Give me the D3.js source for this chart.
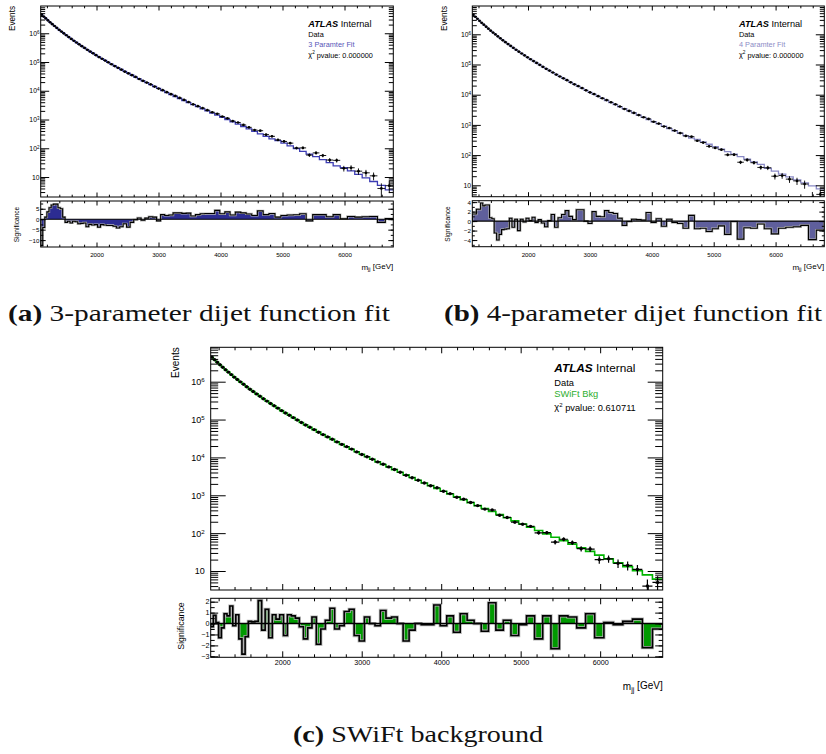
<!DOCTYPE html>
<html>
<head>
<meta charset="utf-8">
<script src="https://cdn.jsdelivr.net/npm/d3@7"></script>
<style>
  body { margin: 0; background: #ffffff; }
  svg { display: block; }
</style>
</head>
<body>
<svg id="figure" width="826" height="754"></svg>
<script>
// Dijet mass bins [GeV], shared by all three fits
const binEdges = [1100, 1133, 1166, 1200, 1234, 1269, 1305, 1341, 1378, 1416, 1454, 1493, 1533, 1573,
  1614, 1656, 1698, 1741, 1785, 1830, 1875, 1921, 1968, 2016, 2065, 2114, 2164, 2215, 2267, 2320,
  2374, 2429, 2485, 2542, 2600, 2659, 2719, 2780, 2842, 2905, 2969, 3034, 3100, 3167, 3235, 3305,
  3376, 3448, 3521, 3596, 3672, 3749, 3827, 3907, 3988, 4070, 4154, 4239, 4326, 4414, 4504, 4595,
  4688, 4782, 4878, 4975, 5074, 5175, 5277, 5381, 5487, 5595, 5705, 5817, 5931, 6047, 6165, 6285,
  6407, 6531, 6658, 6787];

// Events per bin (data)
const dataCounts = [4425000, 3812000, 3273000, 2803000, 2398000, 2076000, 1789000, 1540000, 1318000, 1144000,
  989600, 852400, 735000, 633200, 549100, 476100, 413300, 355600, 307700, 265800,
  231400, 200200, 172400, 149000, 129900, 112500, 97160, 83510, 72120, 62700,
  54340, 46290, 40100, 34810, 30200, 25690, 22090, 19230, 16600, 13980,
  11910, 10460, 8920, 7623, 6627, 5627, 4811, 4060, 3366, 2907,
  2495, 2111, 1790, 1582, 1273, 1103, 885, 788, 647, 534,
  431, 408, 298, 260, 195, 173, 151, 102, 103, 58,
  69, 56, 39, 38, 20, 21, 16, 14, 11, 4, 5];

// Background estimates per bin
const fit3Param = [4432000, 3817000, 3278000, 2797000, 2391000, 2068000, 1781000, 1532000, 1312000, 1138000,
  986000, 857600, 738400, 635200, 551100, 477900, 413800, 357700, 308600, 267900,
  232300, 201300, 173300, 150500, 130600, 113200, 97870, 84410, 73250, 63500,
  54850, 47310, 40760, 35270, 29910, 25720, 22080, 19040, 16390, 14070,
  12060, 10120, 8665, 7404, 6312, 5388, 4583, 3888, 3301, 2794,
  2360, 1992, 1680, 1411, 1183, 991, 828, 688, 571.5, 472,
  389, 319, 261, 212.4, 185.2, 150.4, 121.7, 97.8, 78.3, 62.3,
  51.5, 40.6, 31.7, 24.4, 21.2, 16.3, 12.4, 9.4, 7.0, 5.1, 3.6];

const fit4Param = [4421000, 3806000, 3268000, 2801000, 2395000, 2071000, 1785000, 1535000, 1315000, 1140000,
  993400, 857200, 738100, 634900, 550800, 477700, 411900, 355900, 306900, 266400,
  230900, 199900, 172000, 149300, 129500, 112200, 96940, 83540, 72450, 62750,
  54150, 46660, 40160, 34490, 29720, 25550, 21910, 18890, 16250, 13940,
  11940, 10260, 8788, 7518, 6417, 5485, 4673, 3971, 3448, 2929,
  2485, 2107, 1786, 1508, 1273, 1073, 903, 757, 634.5, 529.5,
  442, 367.3, 329.4, 274.8, 228.7, 190.0, 157.6, 130.3, 107.7, 88.8,
  73.0, 59.9, 49.0, 36.4, 29.4, 23.6, 18.9, 15.2, 12.1, 9.6, 7.6];

const fitSwift = [4426000, 3811000, 3273000, 2805000, 2399000, 2075000, 1788000, 1538000, 1318000, 1143000,
  991000, 855000, 736000, 633000, 549000, 476000, 412000, 356000, 307000, 266500,
  231000, 200000, 172100, 149400, 129600, 112300, 97000, 83600, 72500, 62800,
  54200, 46700, 40200, 34750, 29960, 25770, 22120, 19080, 16430, 14110,
  12090, 10400, 8920, 7640, 6530, 5590, 4770, 4060, 3460, 2940,
  2495, 2116, 1794, 1516, 1280, 1080, 909, 763, 639.5, 534.5,
  446, 371.3, 308.3, 255.6, 211.3, 174.2, 143.2, 117.3, 95.9, 78.2,
  63.4, 51.3, 41.3, 33.0, 26.3, 20.9, 16.5, 13.0, 10.16, 7.89, 6.10];

// Significance per bin
const sig3Param = [-12.5, -4, 1, 3.5, 5.5, 6.8, 7.2, 7.2, 5.5, 5,
  1, -1.5, -1.0, -1.8, -1.0, -1.2, -2.2, -2.0, -1.8, -3.6,
  -2.5, -2.8, -2.6, -3.8, -2.6, -2.8, -3.0, -3.0, -3.4, -4.2,
  -3.6, -2.2, -3.8, -1.5, -0.3, 0.6, -0.5, 0.5, 1.2, 1.0,
  -0.8, 2.2, 1.8, 2.0, 3.0, 3.0, 2.8, 2.9, 1.5, 2.2,
  2.6, 2.7, 2.7, 4.2, 2.6, 3.5, 2.0, 3.4, 3.0, 2.5,
  1.8, 4.0, 2.2, 2.7, 1.0, 1.8, 2.0, 2.1, 2.6, -0.8,
  2.2, 2.2, 1.2, 2.2, 0.2, 1.3, 1.0, 1.2, 1.3, -1.5, 0.3];

const sig4Param = [1.5, 1.5, 2.5, 2.5, 3.8, 3.2, 3.4, 3.4, 0.7, 0.5,
  -2.5, -4.0, -2.8, -1.8, -1.7, -1.6, 0.6, -1.3, 0.4, -2.0,
  0.4, -0.2, 0.6, 0.1, 0.8, -0.3, 0.3, -0.4, -1.2, 0.1,
  1.4, -1.3, 0.7, 1.4, 2.2, 1.0, 0.3, 2.4, 2.4, 0.0,
  -0.5, 2.0, 1.0, 0.9, 2.2, 1.8, 1.6, 0.6, -0.9, -0.1,
  0.4, 0.3, 0.2, 1.8, -0.3, 0.5, -1.1, 0.4, -0.3, -0.5,
  -1.5, 1.2, -1.6, -1.5, -2.2, -1.6, -1.0, -2.8, -0.1, -3.8,
  -1.4, -1.5, -0.6, -1.6, -2.7, -1.5, -1.3, -1.2, -0.9, -3.9, -1.9];

const sigSwift = [-0.3, 0.75, 0.1, -1.3, -0.4, 0.9, 0.7, 1.6, -0.2, 0.8,
  -1.4, -2.8, -1.2, 0.2, 0.15, 0.2, 2.1, -0.6, 1.3, -1.3,
  0.8, 0.4, 0.8, -1.1, 0.8, 0.7, 0.5, -0.3, -1.4, -0.4,
  0.6, -1.9, -0.5, 0.3, 1.4, -0.5, -0.2, 1.1, 1.3, -1.1,
  -1.6, 0.6, 0.0, -0.2, 1.2, 0.5, 0.6, 0.0, -1.6, -0.6,
  0.0, -0.1, -0.1, 1.7, -0.2, 0.7, -0.8, 0.9, 0.3, 0.0,
  -0.7, 1.9, -0.6, 0.3, -1.1, -0.1, 0.7, -1.4, 0.7, -2.3,
  0.7, 0.6, -0.4, 0.9, -1.3, 0.1, -0.1, 0.2, 0.4, -2.2, -0.5];

const massTicks = [2000, 3000, 4000, 5000, 6000];
const fitLabels = ['3 Paramter Fit', '4 Paramter Fit', 'SWiFt Bkg'];
const pValues = ['0.000000', '0.000000', '0.610711'];
const captionTags = ['(a)', '(b)', '(c)'];
const captionTexts = [' 3-parameter dijet function fit', ' 4-parameter dijet function fit', ' SWiFt background'];

const FONT = '"Liberation Sans", Arial, Helvetica, sans-serif';
const SERIF = '"Liberation Serif", "DejaVu Serif", serif';

const svg = d3.select('#figure');
const defs = svg.append('defs');

// Small-panel layout shared by (a) and (b)
const smallTicks = { xMaj: 4.5, xMin: 2.3, yMaj: 8.5, yMin: 4.5, sMaj: 5, sMin: 2.5 };
const smallFonts = { yLab: 6.8, xLab: 6.2, sLab: 6.2, events: 8.2, sigTitle: 6.6, xTitle: 8, atlas: 9.2, leg: 7.3 };
const smallStroke = { fit: 1.3, data: 0.9, marker: 1.35, outline: 1.1, halo: 2.3, zero: 1.1 };

const panels = [
  {
    id: 'a', fit: fit3Param, sig: sig3Param, label: fitLabels[0], pvalue: pValues[0],
    fill: '#2c2c92', line: '#3c3cb4', legendColor: '#5656b8',
    left: 40.7, right: 393.3, top: 6, bottom: 197, lowTop: 201, lowBottom: 247,
    yDomain: [2.02, 8.87e6], sigDomain: [-13.3, 8.7], sigMajor: [-10, -5, 0, 5], sigMinorStep: 2.5,
    tick: smallTicks, font: smallFonts, stroke: smallStroke,
    pad: { yLab: 1.2, xLab: 5.5, sLab: 1.3 },
    eventsX: 15, sigTitleX: 18.5, sigTitleY: 224.5, xTitleY: 269.5,
    legendX: 308.3, legendY: [26.7, 36.6, 46.6, 56.5],
  },
  {
    id: 'b', fit: fit4Param, sig: sig4Param, label: fitLabels[1], pvalue: pValues[1],
    fill: '#5f5f9c', line: '#8a8ac6', legendColor: '#8c8cc6',
    left: 472.3, right: 824.3, top: 6, bottom: 196.7, lowTop: 200.7, lowBottom: 246.7,
    yDomain: [4.19, 8.65e6], sigDomain: [-5.4, 4.3], sigMajor: [-4, -2, 0, 2, 4], sigMinorStep: 1,
    tick: smallTicks, font: smallFonts, stroke: smallStroke,
    pad: { yLab: 1.2, xLab: 5.5, sLab: 1.3 },
    eventsX: 446.5, sigTitleX: 450, sigTitleY: 224, xTitleY: 269.5,
    legendX: 739, legendY: [26.7, 36.6, 46.6, 56.5],
  },
  {
    id: 'c', fit: fitSwift, sig: sigSwift, label: fitLabels[2], pvalue: pValues[2],
    fill: '#009a00', line: '#00b400', legendColor: '#2eae2e',
    left: 210.7, right: 662.7, top: 347.3, bottom: 590, lowTop: 598.3, lowBottom: 657.3,
    yDomain: [3.15, 8.1e6], sigDomain: [-3.09, 2.31], sigMajor: [-3, -2, -1, 0, 1, 2], sigMinorStep: 0.5,
    tick: { xMaj: 6, xMin: 3, yMaj: 15, yMin: 7.5, sMaj: 7.5, sMin: 4 },
    font: { yLab: 9, xLab: 7.2, sLab: 7.2, events: 10, sigTitle: 8.8, xTitle: 10, atlas: 11.8, leg: 9.3 },
    stroke: { fit: 1.6, data: 1.2, marker: 1.7, outline: 1.6, halo: 3.2, zero: 1.4 },
    pad: { yLab: 6, xLab: 2.5, sLab: 1.3 },
    eventsX: 179, sigTitleX: 183.5, sigTitleY: 626, xTitleY: 690,
    legendX: 554.3, legendY: [371.7, 386, 397.4, 410],
  },
];

const massMinor = d3.range(1200, binEdges[binEdges.length - 1], 200).filter((v) => v % 1000 !== 0);

/**
 * Log ticks between the domain limits: 1..9 x 10^n
 */
const logTicks = (domain) => {
  const out = [];
  for (let e = Math.floor(Math.log10(domain[0])); e <= Math.ceil(Math.log10(domain[1])); e++) {
    for (let k = 1; k < 10; k++) {
      const v = k * Math.pow(10, e);
      if (v >= domain[0] && v <= domain[1]) out.push({ v, major: k === 1 });
    }
  }
  return out;
};

// helper: append an axis group, drop the domain line, set ROOT-like styling
const addAxis = (g, axis, tx, ty, fontSize) => g
  .append('g')
  .attr('transform', `translate(${tx},${ty})`)
  .call(axis)
  .call((a) => a.select('.domain').remove())
  .attr('font-family', FONT)
  .attr('font-size', fontSize || 8);

const drawPanel = (p) => {
  const xScale = d3.scaleLinear()
    .domain([binEdges[0], binEdges[binEdges.length - 1]])
    .range([p.left, p.right]);
  const yScale = d3.scaleLog().domain(p.yDomain).range([p.bottom, p.top]);
  const sigScale = d3.scaleLinear().domain(p.sigDomain).range([p.lowBottom, p.lowTop]);

  const bins = dataCounts.map((count, j) => ({
    lo: binEdges[j], hi: binEdges[j + 1], count, fit: p.fit[j], sig: p.sig[j],
  }));

  const g = svg.append('g').attr('font-family', FONT);

  defs.append('clipPath').attr('id', `main-${p.id}`)
    .append('rect')
    .attr('x', p.left).attr('y', p.top)
    .attr('width', p.right - p.left).attr('height', p.bottom - p.top);
  defs.append('clipPath').attr('id', `low-${p.id}`)
    .append('rect')
    .attr('x', p.left).attr('y', p.lowTop)
    .attr('width', p.right - p.left).attr('height', p.lowBottom - p.lowTop);

  // Background fit as a step histogram
  let fitPath = `M${xScale(bins[0].lo)},${yScale(bins[0].fit)}`;
  bins.forEach((b, j) => {
    fitPath += `H${xScale(b.hi)}`;
    if (j < bins.length - 1) fitPath += `V${yScale(bins[j + 1].fit)}`;
  });
  g.append('path')
    .attr('clip-path', `url(#main-${p.id})`)
    .attr('d', fitPath)
    .attr('fill', 'none')
    .attr('stroke', p.line)
    .attr('stroke-width', p.stroke.fit);

  // Data points with error bars
  const points = g.append('g').attr('clip-path', `url(#main-${p.id})`).attr('stroke', '#000');
  points.selectAll('line.xerr').data(bins).join('line')
    .attr('class', 'xerr')
    .attr('x1', (d) => xScale(d.lo)).attr('x2', (d) => xScale(d.hi))
    .attr('y1', (d) => yScale(d.count)).attr('y2', (d) => yScale(d.count))
    .attr('stroke-width', p.stroke.data);
  points.selectAll('line.yerr').data(bins).join('line')
    .attr('class', 'yerr')
    .attr('x1', (d) => xScale((d.lo + d.hi) / 2)).attr('x2', (d) => xScale((d.lo + d.hi) / 2))
    .attr('y1', (d) => yScale(d.count + Math.sqrt(d.count)))
    .attr('y2', (d) => yScale(Math.max(d.count - Math.sqrt(d.count), p.yDomain[0] * 0.5)))
    .attr('stroke-width', p.stroke.data);
  points.selectAll('circle').data(bins).join('circle')
    .attr('cx', (d) => xScale((d.lo + d.hi) / 2))
    .attr('cy', (d) => yScale(d.count))
    .attr('r', p.stroke.marker)
    .attr('fill', '#000')
    .attr('stroke', 'none');

  // Significance histogram
  const y0 = sigScale(0);
  let step = `M${xScale(bins[0].lo)},${y0}`;
  bins.forEach((b) => {
    step += `V${sigScale(b.sig)}H${xScale(b.hi)}`;
  });
  step += `V${y0}`;
  const low = g.append('g').attr('clip-path', `url(#low-${p.id})`);
  low.append('path').attr('d', `${step}Z`).attr('fill', p.fill);
  low.append('path').attr('d', step).attr('fill', 'none')
    .attr('stroke', '#b4b4b4').attr('stroke-width', p.stroke.halo);
  low.append('path').attr('d', step).attr('fill', 'none')
    .attr('stroke', '#000').attr('stroke-width', p.stroke.outline);
  low.append('line')
    .attr('x1', p.left).attr('x2', p.right).attr('y1', y0).attr('y2', y0)
    .attr('stroke', '#000').attr('stroke-width', p.stroke.zero);

  // Frames
  g.append('rect')
    .attr('x', p.left).attr('y', p.top)
    .attr('width', p.right - p.left).attr('height', p.bottom - p.top)
    .attr('fill', 'none').attr('stroke', '#000').attr('stroke-width', 1);
  g.append('rect')
    .attr('x', p.left).attr('y', p.lowTop)
    .attr('width', p.right - p.left).attr('height', p.lowBottom - p.lowTop)
    .attr('fill', 'none').attr('stroke', '#000').attr('stroke-width', 1);

  const noLabel = () => '';

  // x ticks (inside) on main and lower pads
  [[p.bottom, d3.axisBottom], [p.top, d3.axisTop], [p.lowTop, d3.axisTop]].forEach(([yy, ax]) => {
    addAxis(g, ax(xScale).tickValues(massTicks).tickSize(-p.tick.xMaj).tickFormat(noLabel), 0, yy);
    addAxis(g, ax(xScale).tickValues(massMinor).tickSize(-p.tick.xMin).tickFormat(noLabel), 0, yy);
  });
  addAxis(g, d3.axisBottom(xScale).tickValues(massMinor).tickSize(-p.tick.xMin).tickFormat(noLabel), 0, p.lowBottom);
  addAxis(
    g,
    d3.axisBottom(xScale).tickValues(massTicks).tickSize(-p.tick.xMaj)
      .tickPadding(p.pad.xLab).tickFormat(d3.format('d')),
    0, p.lowBottom, p.font.xLab
  );

  // Log y ticks
  const lt = logTicks(p.yDomain);
  const majors = lt.filter((t) => t.major).map((t) => t.v);
  const minors = lt.filter((t) => !t.major).map((t) => t.v);
  const yLeft = addAxis(
    g,
    d3.axisLeft(yScale).tickValues(majors).tickSize(-p.tick.yMaj).tickPadding(p.pad.yLab).tickFormat(noLabel),
    p.left, 0, p.font.yLab
  );
  yLeft.selectAll('.tick text').each(function (d) {
    const t = d3.select(this);
    const e = Math.round(Math.log10(d));
    t.text(null);
    t.append('tspan').text('10');
    if (e !== 1) {
      t.append('tspan').attr('dy', '-0.45em').attr('font-size', '0.68em').text(e);
    }
  });
  addAxis(g, d3.axisLeft(yScale).tickValues(minors).tickSize(-p.tick.yMin).tickFormat(noLabel), p.left, 0);
  addAxis(g, d3.axisRight(yScale).tickValues(majors).tickSize(-p.tick.yMaj).tickFormat(noLabel), p.right, 0);
  addAxis(g, d3.axisRight(yScale).tickValues(minors).tickSize(-p.tick.yMin).tickFormat(noLabel), p.right, 0);

  // Significance y ticks
  const sigMinor = d3.range(
    Math.ceil(p.sigDomain[0] / p.sigMinorStep) * p.sigMinorStep,
    p.sigDomain[1],
    p.sigMinorStep
  );
  addAxis(
    g,
    d3.axisLeft(sigScale).tickValues(p.sigMajor).tickSize(-p.tick.sMaj)
      .tickPadding(p.pad.sLab).tickFormat(d3.format('d')),
    p.left, 0, p.font.sLab
  );
  addAxis(g, d3.axisLeft(sigScale).tickValues(sigMinor).tickSize(-p.tick.sMin).tickFormat(noLabel), p.left, 0);
  addAxis(g, d3.axisRight(sigScale).tickValues(p.sigMajor).tickSize(-p.tick.sMaj).tickFormat(noLabel), p.right, 0);
  addAxis(g, d3.axisRight(sigScale).tickValues(sigMinor).tickSize(-p.tick.sMin).tickFormat(noLabel), p.right, 0);

  // Axis titles
  g.append('text')
    .attr('transform', `translate(${p.eventsX},${p.top}) rotate(-90)`)
    .attr('text-anchor', 'end')
    .attr('font-size', p.font.events)
    .text('Events');
  g.append('text')
    .attr('transform', `translate(${p.sigTitleX},${p.sigTitleY}) rotate(-90)`)
    .attr('text-anchor', 'middle')
    .attr('font-size', p.font.sigTitle)
    .text('Significance');
  const xt = g.append('text')
    .attr('x', p.right).attr('y', p.xTitleY)
    .attr('text-anchor', 'end')
    .attr('font-size', p.font.xTitle);
  xt.append('tspan').text('m');
  xt.append('tspan').attr('dy', '0.3em').attr('font-size', '0.7em').text('jj');
  xt.append('tspan').attr('dy', '-0.3em').text(' [GeV]');

  // Legend block
  const atlas = g.append('text')
    .attr('x', p.legendX).attr('y', p.legendY[0])
    .attr('font-size', p.font.atlas);
  atlas.append('tspan').attr('font-weight', 'bold').attr('font-style', 'italic').text('ATLAS');
  atlas.append('tspan').text(' Internal');
  g.append('text')
    .attr('x', p.legendX).attr('y', p.legendY[1])
    .attr('font-size', p.font.leg)
    .text('Data');
  g.append('text')
    .attr('x', p.legendX).attr('y', p.legendY[2])
    .attr('font-size', p.font.leg)
    .attr('fill', p.legendColor)
    .text(p.label);
  const chi = g.append('text')
    .attr('x', p.legendX).attr('y', p.legendY[3])
    .attr('font-size', p.font.leg);
  chi.append('tspan').text('χ');
  chi.append('tspan').attr('dy', '-0.45em').attr('font-size', '0.65em').text('2');
  chi.append('tspan').attr('dy', '0.45em').text(` pvalue: ${p.pvalue}`);
};

panels.forEach(drawPanel);

// Sub-figure captions
const captionPos = [
  { x: 8, y: 321, width: 382 },
  { x: 444, y: 321, width: 378 },
  { x: 293, y: 741.5, width: 250 },
];
captionPos.forEach((c, i) => {
  const t = svg.append('text')
    .attr('x', c.x).attr('y', c.y)
    .attr('font-family', SERIF)
    .attr('font-size', 24)
    .attr('textLength', c.width)
    .attr('lengthAdjust', 'spacingAndGlyphs')
    .attr('fill', '#111');
  t.append('tspan').attr('font-weight', 'bold').text(captionTags[i]);
  t.append('tspan').text(captionTexts[i]);
});
</script>
</body>
</html>
